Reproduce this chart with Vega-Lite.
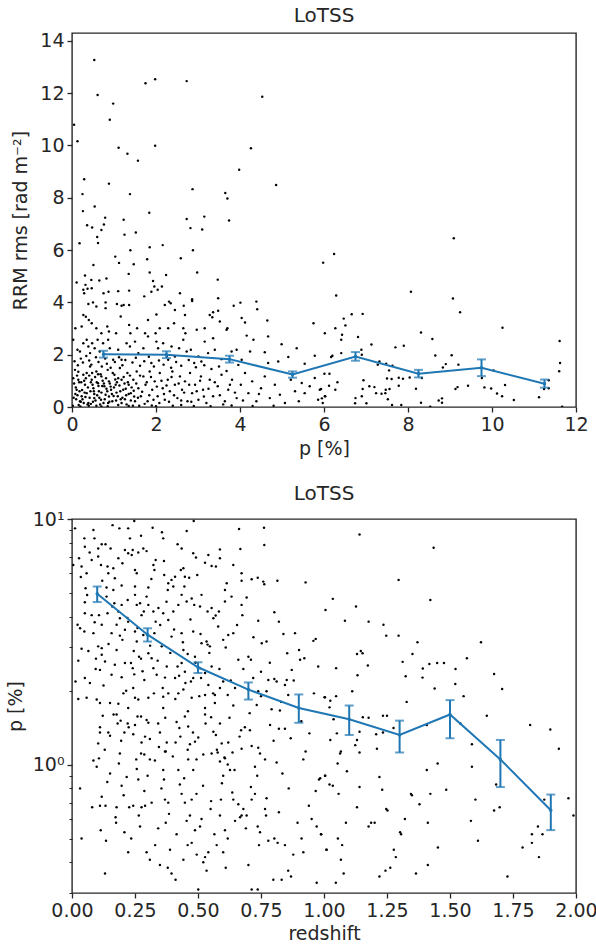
{
"$schema": "https://vega.github.io/schema/vega-lite/v6.json",
"background": "white",
"padding": 5,
"spacing": 24,
"config": {
 "font": "DejaVu Sans",
 "view": {"stroke": "#262626", "strokeWidth": 1.4},
 "axis": {"domain": false, "grid": false, "tickColor": "#262626", "tickSize": 5, "tickWidth": 1.3, "labelColor": "#262626", "labelFontSize": 19, "labelFont": "DejaVu Sans", "titleFont": "DejaVu Sans", "titleFontSize": 19, "titleFontWeight": "normal", "titleColor": "#262626", "labelFlush": false, "labelPadding": 3, "labelOverlap": false},
 "title": {"fontSize": 20, "fontWeight": "normal", "color": "#262626", "font": "DejaVu Sans", "offset": 6}
},
"datasets": {
"top_pts": [
{"p":0.53,"r":13.27},{"p":0.61,"r":11.93},{"p":0.98,"r":11.6},{"p":0.90,"r":10.98},{"p":0.05,"r":10.79},{"p":0.13,"r":10.16},{"p":1.11,"r":9.91},{"p":1.32,"r":9.68},{"p":1.57,"r":9.42},{"p":1.75,"r":12.38},{"p":1.98,"r":12.53},{"p":2.73,"r":12.46},{"p":1.98,"r":9.99},{"p":4.53,"r":11.86},{"p":4.26,"r":9.89},{"p":3.98,"r":9.07},{"p":4.86,"r":8.49},{"p":0.29,"r":8.71},{"p":0.25,"r":8.14},{"p":0.88,"r":8.54},{"p":1.38,"r":8.14},{"p":2.87,"r":8.33},{"p":3.65,"r":8.18},{"p":3.70,"r":7.97},{"p":0.26,"r":7.49},{"p":0.54,"r":7.67},{"p":0.79,"r":7.24},{"p":1.23,"r":7.16},{"p":1.84,"r":7.43},{"p":2.73,"r":7.19},{"p":3.15,"r":7.28},{"p":3.74,"r":7.13},{"p":0.36,"r":6.95},{"p":0.48,"r":6.86},{"p":0.76,"r":6.98},{"p":0.70,"r":6.77},{"p":0.60,"r":6.50},{"p":1.25,"r":6.59},{"p":1.52,"r":6.67},{"p":2.82,"r":6.84},{"p":3.10,"r":6.79},{"p":9.09,"r":6.45},
{"p":0.18,"r":6.26},{"p":0.62,"r":6.27},{"p":1.03,"r":5.75},{"p":1.12,"r":5.51},{"p":2.59,"r":5.69},{"p":2.88,"r":5.99},{"p":1.39,"r":5.99},{"p":0.51,"r":5.43},{"p":1.47,"r":5.46},{"p":2.98,"r":5.14},{"p":1.85,"r":5.14},{"p":1.35,"r":5.09},{"p":0.11,"r":4.76},{"p":0.31,"r":5.03},{"p":0.65,"r":4.84},{"p":0.82,"r":4.91},{"p":1.10,"r":4.43},{"p":1.36,"r":4.45},{"p":1.93,"r":4.82},{"p":1.96,"r":4.61},{"p":2.14,"r":4.61},{"p":2.57,"r":4.35},{"p":3.47,"r":4.87},{"p":0.27,"r":4.48},{"p":0.46,"r":4.86},{"p":1.72,"r":4.23},{"p":2.86,"r":4.12},{"p":3.48,"r":4.16},
{"p":1.85,"r":6.11},{"p":2.16,"r":6.19},{"p":1.79,"r":5.65},{"p":2.24,"r":5.05},{"p":0.29,"r":4.35},{"p":0.32,"r":4.67},{"p":0.37,"r":4.52},{"p":0.47,"r":4.54},{"p":0.75,"r":4.35},{"p":0.87,"r":4.41},{"p":1.89,"r":4.41},{"p":2.04,"r":4.48},{"p":2.86,"r":4.05},
{"p":0.39,"r":3.94},{"p":0.50,"r":4.0},{"p":0.58,"r":3.84},{"p":0.80,"r":4.0},{"p":0.80,"r":3.78},{"p":1.07,"r":3.94},{"p":1.18,"r":3.87},{"p":1.23,"r":3.9},{"p":1.36,"r":3.9},{"p":2.01,"r":3.54},{"p":2.21,"r":3.9},{"p":2.31,"r":4.03},{"p":2.35,"r":3.97},{"p":2.45,"r":3.71},{"p":2.66,"r":3.87},{"p":2.69,"r":3.52},{"p":3.28,"r":3.52},{"p":3.36,"r":3.62},{"p":3.34,"r":3.43},{"p":3.48,"r":3.68},{"p":3.52,"r":3.27},{"p":3.85,"r":3.87},{"p":4.01,"r":3.99},{"p":4.04,"r":3.40},{"p":4.12,"r":3.23},{"p":4.39,"r":4.03},{"p":4.41,"r":3.74},{"p":4.65,"r":3.31},{"p":5.98,"r":5.52},{"p":5.75,"r":3.2},{"p":6.02,"r":2.82},
{"p":0.08,"r":3.01},{"p":0.23,"r":3.08},{"p":0.27,"r":3.52},{"p":0.33,"r":3.45},{"p":0.40,"r":3.33},{"p":0.47,"r":3.2},{"p":0.58,"r":3.01},{"p":0.70,"r":2.82},{"p":0.84,"r":3.08},{"p":0.88,"r":2.89},{"p":1.05,"r":2.82},{"p":1.16,"r":3.46},{"p":1.36,"r":3.14},{"p":1.39,"r":2.82},{"p":1.55,"r":3.01},{"p":1.81,"r":3.33},{"p":1.74,"r":2.82},{"p":1.99,"r":2.82},{"p":2.09,"r":3.01},{"p":2.29,"r":3.01},{"p":2.43,"r":3.2},{"p":2.65,"r":3.01},{"p":2.70,"r":2.82},{"p":2.97,"r":2.95},{"p":3.16,"r":3.01},{"p":3.16,"r":2.5},{"p":3.36,"r":2.63},{"p":3.68,"r":2.95},{"p":3.70,"r":3.01},{"p":4.16,"r":2.73},{"p":4.32,"r":2.57},{"p":4.67,"r":2.70},{"p":4.99,"r":2.4},{"p":5.35,"r":2.25},{"p":4.24,"r":2.12},{"p":4.59,"r":2.09},{"p":4.67,"r":1.68},{"p":4.91,"r":1.74},{"p":5.15,"r":1.91},{"p":5.54,"r":1.65},{"p":5.78,"r":1.96},{"p":5.47,"r":0.92},{"p":5.78,"r":1.11},{"p":5.9,"r":0.66},{"p":6.02,"r":0.41},
{"p":0.03,"r":2.57},{"p":0.13,"r":2.19},{"p":0.19,"r":2.12},{"p":0.27,"r":2.44},{"p":0.35,"r":2.57},{"p":0.39,"r":2.31},{"p":0.43,"r":2.06},{"p":0.48,"r":2.44},{"p":0.54,"r":2.25},{"p":0.61,"r":2.57},{"p":0.66,"r":2.12},{"p":0.74,"r":2.44},{"p":0.86,"r":2.57},{"p":0.90,"r":2.25},{"p":0.98,"r":1.81},{"p":1.10,"r":2.19},{"p":1.18,"r":1.81},{"p":1.30,"r":2.44},{"p":1.38,"r":2.31},{"p":1.50,"r":2.5},{"p":1.58,"r":2.06},{"p":1.70,"r":2.25},{"p":1.81,"r":2.70},{"p":1.89,"r":1.68},{"p":2.01,"r":2.5},{"p":2.05,"r":2.25},{"p":2.17,"r":2.44},{"p":2.29,"r":1.81},{"p":2.37,"r":2.31},{"p":2.45,"r":1.93},{"p":2.55,"r":2.25},{"p":2.65,"r":2.57},{"p":2.73,"r":2.12},{"p":2.83,"r":2.19},{"p":2.91,"r":1.68},{"p":3.01,"r":1.93},{"p":3.08,"r":1.74},{"p":3.24,"r":2.06},{"p":3.40,"r":2.19},{"p":3.56,"r":1.83},{"p":3.80,"r":2.12},{"p":3.92,"r":2.19},{"p":3.96,"r":1.61},{"p":4.04,"r":1.81},
{"p":0.07,"r":1.42},{"p":0.15,"r":1.04},{"p":0.11,"r":0.66},{"p":0.23,"r":0.41},{"p":0.19,"r":0.22},{"p":0.27,"r":1.23},{"p":0.31,"r":0.85},{"p":0.35,"r":0.53},{"p":0.39,"r":0.15},{"p":0.43,"r":1.55},{"p":0.47,"r":1.04},{"p":0.51,"r":0.72},{"p":0.53,"r":0.34},{"p":0.58,"r":1.36},{"p":0.62,"r":0.91},{"p":0.64,"r":0.60},{"p":0.69,"r":0.28},{"p":0.70,"r":1.17},{"p":0.77,"r":0.79},{"p":0.80,"r":0.47},{"p":0.85,"r":1.42},{"p":0.88,"r":0.98},{"p":0.93,"r":0.66},{"p":0.96,"r":0.22},{"p":1.01,"r":1.23},{"p":1.04,"r":0.85},{"p":1.09,"r":0.41},{"p":1.14,"r":1.49},{"p":1.18,"r":1.04},{"p":1.22,"r":0.66},{"p":1.26,"r":0.30},{"p":1.32,"r":1.30},{"p":1.35,"r":0.85},{"p":1.40,"r":0.53},{"p":1.46,"r":1.04},{"p":1.50,"r":0.22},{"p":1.54,"r":1.36},{"p":1.58,"r":0.72},{"p":1.64,"r":0.41},{"p":1.70,"r":1.17},{"p":1.75,"r":0.85},{"p":1.80,"r":0.22},{"p":1.85,"r":1.36},{"p":1.91,"r":0.66},{"p":1.97,"r":0.98},{"p":2.04,"r":0.41},{"p":2.09,"r":1.30},{"p":2.16,"r":0.72},{"p":2.21,"r":0.28},{"p":2.28,"r":1.04},{"p":2.33,"r":0.60},{"p":2.39,"r":1.36},{"p":2.45,"r":0.85},{"p":2.51,"r":0.34},{"p":2.57,"r":1.17},{"p":2.62,"r":0.66},{"p":2.69,"r":0.98},{"p":2.75,"r":0.22},{"p":2.81,"r":1.30},{"p":2.86,"r":0.53},{"p":2.93,"r":0.85},{"p":3.01,"r":0.28},{"p":3.07,"r":1.17},{"p":3.12,"r":0.66},{"p":3.20,"r":0.15},{"p":3.28,"r":1.04},{"p":3.36,"r":0.41},{"p":3.47,"r":0.79},{"p":3.56,"r":1.23},{"p":3.64,"r":0.22},{"p":3.72,"r":0.66},{"p":3.81,"r":1.04},{"p":3.92,"r":0.34},{"p":4.02,"r":0.85},{"p":4.12,"r":1.30},{"p":4.20,"r":0.53},{"p":4.29,"r":0.98},{"p":4.39,"r":0.22},{"p":4.50,"r":0.72},{"p":4.59,"r":1.17},{"p":4.71,"r":0.34},{"p":4.83,"r":0.85},{"p":4.95,"r":0.47},{"p":5.07,"r":0.15},{"p":5.21,"r":1.04},{"p":5.31,"r":0.60},{"p":5.40,"r":0.22},{"p":5.54,"r":0.53},{"p":5.66,"r":0.79},{"p":5.86,"r":0.28},
{"p":0.05,"r":0.9},{"p":0.1,"r":0.3},{"p":0.12,"r":1.2},{"p":0.18,"r":0.6},{"p":0.22,"r":0.95},{"p":0.28,"r":0.15},{"p":0.3,"r":0.55},{"p":0.33,"r":1.1},{"p":0.38,"r":0.75},{"p":0.42,"r":0.35},{"p":0.45,"r":0.95},{"p":0.5,"r":0.2},{"p":0.52,"r":0.6},{"p":0.55,"r":1.15},{"p":0.6,"r":0.45},{"p":0.63,"r":0.8},{"p":0.67,"r":0.1},{"p":0.7,"r":0.55},{"p":0.73,"r":1.0},{"p":0.78,"r":0.3},{"p":0.82,"r":0.7},{"p":0.86,"r":0.15},{"p":0.9,"r":0.9},{"p":0.95,"r":0.5},{"p":1.0,"r":0.75},{"p":1.05,"r":0.25},{"p":1.1,"r":1.1},{"p":1.15,"r":0.6},{"p":1.2,"r":0.35},{"p":1.25,"r":0.9},{"p":1.3,"r":0.1},{"p":1.35,"r":0.5},{"p":1.42,"r":0.75},{"p":1.48,"r":0.4},{"p":0.08,"r":0.5},{"p":0.15,"r":1.35},{"p":0.25,"r":0.3},{"p":0.35,"r":1.3},{"p":0.48,"r":1.3},{"p":0.58,"r":0.05},{"p":0.68,"r":1.25},{"p":0.76,"r":0.9},{"p":0.88,"r":0.4},{"p":0.97,"r":1.3},{"p":1.07,"r":0.95},{"p":1.18,"r":0.15},{"p":1.28,"r":0.7},{"p":1.38,"r":1.2},{"p":1.45,"r":0.05},{"p":0.02,"r":0.05},{"p":0.04,"r":0.35},{"p":0.2,"r":0.02},{"p":0.4,"r":0.05},{"p":0.85,"r":0.03},{"p":1.6,"r":0.05},{"p":2.0,"r":0.03},{"p":2.4,"r":0.05},{"p":2.9,"r":0.04},{"p":3.3,"r":0.03},{"p":3.8,"r":0.06},{"p":4.3,"r":0.04},{"p":4.8,"r":0.05},
{"p":0.06,"r":1.75},{"p":0.14,"r":1.6},{"p":0.21,"r":1.85},{"p":0.26,"r":1.7},{"p":0.34,"r":1.95},{"p":0.41,"r":1.78},{"p":0.46,"r":1.62},{"p":0.57,"r":1.9},{"p":0.63,"r":1.72},{"p":0.71,"r":1.55},{"p":0.79,"r":1.85},{"p":0.83,"r":1.65},{"p":0.92,"r":1.5},{"p":1.02,"r":1.72},{"p":1.12,"r":1.9},{"p":1.2,"r":1.6},{"p":1.27,"r":1.8},{"p":1.44,"r":1.7},{"p":1.52,"r":1.88},{"p":1.62,"r":1.58},{"p":1.72,"r":1.75},{"p":1.83,"r":1.92},{"p":1.95,"r":1.55},{"p":2.07,"r":1.78},{"p":2.18,"r":1.62},{"p":2.26,"r":1.95},{"p":2.36,"r":1.5},{"p":2.48,"r":1.72},{"p":2.6,"r":1.58},{"p":2.78,"r":1.8},{"p":2.95,"r":1.52},{"p":3.15,"r":1.6},{"p":3.32,"r":1.45},{"p":3.5,"r":1.55},{"p":3.68,"r":1.38},
{"p":0.03,"r":1.1},{"p":0.09,"r":0.75},{"p":0.13,"r":0.45},{"p":0.17,"r":0.95},{"p":0.21,"r":0.2},{"p":0.24,"r":0.65},{"p":0.29,"r":1.0},{"p":0.32,"r":0.38},{"p":0.37,"r":0.1},{"p":0.41,"r":1.2},{"p":0.44,"r":0.6},{"p":0.49,"r":0.85},{"p":0.53,"r":0.5},{"p":0.56,"r":0.25},{"p":0.59,"r":0.95},{"p":0.62,"r":1.25},{"p":0.65,"r":0.35},{"p":0.72,"r":0.8},{"p":0.75,"r":0.15},{"p":0.81,"r":1.1},{"p":0.84,"r":0.6},{"p":0.89,"r":0.2},{"p":0.92,"r":0.78},{"p":0.99,"r":0.42},{"p":1.03,"r":1.05},{"p":1.06,"r":0.55},{"p":1.13,"r":0.82},{"p":1.16,"r":0.3},{"p":1.23,"r":1.15},{"p":1.29,"r":0.45},{"p":1.33,"r":0.95},{"p":1.4,"r":0.25},{"p":1.47,"r":0.62},{"p":1.53,"r":0.9},{"p":1.57,"r":0.35},{"p":1.62,"r":1.2},{"p":1.67,"r":0.58},{"p":1.73,"r":0.12},{"p":1.78,"r":0.95},{"p":1.84,"r":0.45},{"p":1.88,"r":1.15},{"p":1.94,"r":0.28},{"p":2.02,"r":0.78},{"p":2.08,"r":0.15},{"p":2.13,"r":1.0},{"p":2.19,"r":0.5},{"p":2.25,"r":0.82},{"p":2.31,"r":0.2},{"p":2.37,"r":1.15},{"p":2.43,"r":0.45},{"p":2.54,"r":0.9},{"p":2.6,"r":0.25},{"p":2.67,"r":0.55},{"p":2.79,"r":0.85},{"p":2.84,"r":0.2},{"p":2.97,"r":0.6},{"p":3.05,"r":1.0},{"p":3.14,"r":0.4},{"p":3.25,"r":0.7},{"p":3.4,"r":0.95},{"p":3.52,"r":0.45},{"p":3.6,"r":0.1},{"p":3.76,"r":0.85},{"p":3.88,"r":0.55},{"p":4.07,"r":0.25},{"p":4.45,"r":0.5},{"p":0.16,"r":0.08},{"p":0.45,"r":0.12},{"p":0.7,"r":0.02},{"p":1.1,"r":0.08},{"p":1.35,"r":0.04},{"p":1.9,"r":0.06},{"p":2.6,"r":0.08},
{"p":6.24,"r":5.85},{"p":6.29,"r":4.26},{"p":8.07,"r":4.41},{"p":9.07,"r":4.15},{"p":9.24,"r":3.62},{"p":6.66,"r":3.55},{"p":6.92,"r":3.56},{"p":6.47,"r":3.38},{"p":6.51,"r":3.12},{"p":6.27,"r":3.01},{"p":6.43,"r":2.76},{"p":6.41,"r":2.57},{"p":6.81,"r":2.68},{"p":7.13,"r":2.39},{"p":8.31,"r":2.85},{"p":8.58,"r":2.6},{"p":10.25,"r":3.03},{"p":11.61,"r":2.52},{"p":11.62,"r":1.68},{"p":11.6,"r":1.37},{"p":6.41,"r":2.06},{"p":6.2,"r":1.96},{"p":6.17,"r":1.91},{"p":6.89,"r":2.19},{"p":6.9,"r":2.0},{"p":7.70,"r":2.28},{"p":7.90,"r":2.34},{"p":8.65,"r":1.97},{"p":9.04,"r":1.98},{"p":8.9,"r":1.64},{"p":8.83,"r":1.51},{"p":9.2,"r":1.62},{"p":7.28,"r":1.62},{"p":7.32,"r":1.74},{"p":7.48,"r":1.65},{"p":7.63,"r":1.58},{"p":7.55,"r":1.40},{"p":6.01,"r":1.27},{"p":6.13,"r":1.27},{"p":6.32,"r":0.95},{"p":6.12,"r":0.81},{"p":6.27,"r":0.66},{"p":5.93,"r":0.69},{"p":6.03,"r":0.41},{"p":5.95,"r":0.33},{"p":5.97,"r":0.15},{"p":6.94,"r":1.02},{"p":6.92,"r":0.69},{"p":6.90,"r":0.41},{"p":6.75,"r":0.34},{"p":6.74,"r":0.14},{"p":7.01,"r":0.14},{"p":7.08,"r":0.79},{"p":7.2,"r":0.76},{"p":7.24,"r":0.53},{"p":7.37,"r":0.51},{"p":7.47,"r":0.66},{"p":7.56,"r":0.69},{"p":7.46,"r":0.53},{"p":7.52,"r":0.30},{"p":7.5,"r":1.09},{"p":7.61,"r":1.07},{"p":7.78,"r":1.12},{"p":7.88,"r":1.08},{"p":7.78,"r":0.81},{"p":7.62,"r":0.08},{"p":7.84,"r":0.08},{"p":8.04,"r":1.13},{"p":8.19,"r":0.70},{"p":8.31,"r":0.16},{"p":8.53,"r":0.01},{"p":8.33,"r":1.11},{"p":8.73,"r":0.25},{"p":8.81,"r":0.33},{"p":8.81,"r":0.16},{"p":9.13,"r":0.69},{"p":9.18,"r":0.76},{"p":9.43,"r":0.81},{"p":9.76,"r":1.11},{"p":9.82,"r":0.75},{"p":9.98,"r":0.71},{"p":10.04,"r":1.40},{"p":10.12,"r":0.52},{"p":10.24,"r":0.41},{"p":10.31,"r":0.84},{"p":10.52,"r":0.27},{"p":11.12,"r":0.37},{"p":11.24,"r":0.69},{"p":11.35,"r":1.02},{"p":11.35,"r":0.72},{"p":11.67,"r":0.01}
],
"top_bins": [
{"p":0.75,"r":2.02,"lo":1.89,"hi":2.15},{"p":2.25,"r":2.0,"lo":1.87,"hi":2.13},{"p":3.75,"r":1.83,"lo":1.70,"hi":1.96},{"p":5.25,"r":1.24,"lo":1.12,"hi":1.36},{"p":6.75,"r":1.93,"lo":1.77,"hi":2.10},{"p":8.25,"r":1.27,"lo":1.13,"hi":1.42},{"p":9.75,"r":1.50,"lo":1.18,"hi":1.82},{"p":11.25,"r":0.89,"lo":0.74,"hi":1.05}
],
"bot_pts": [
{"z":0.012,"p":9.16},{"z":0.049,"p":8.34},{"z":0.085,"p":9.02},{"z":0.089,"p":8.34},{"z":0.118,"p":7.89},{"z":0.133,"p":7.89},{"z":0.161,"p":9.44},{"z":0.188,"p":9.16},{"z":0.223,"p":9.16},{"z":0.247,"p":9.82},{"z":0.230,"p":8.34},{"z":0.274,"p":8.55},{"z":0.320,"p":9.22},{"z":0.357,"p":8.83},{"z":0.362,"p":8.34},{"z":0.419,"p":7.89},{"z":0.455,"p":8.93},{"z":0.483,"p":9.82},{"z":0.663,"p":9.10},{"z":0.762,"p":9.22},{"z":0.763,"p":7.84},{"z":0.668,"p":7.55},{"z":0.587,"p":7.52},{"z":0.051,"p":7.71},{"z":0.104,"p":7.59},{"z":0.153,"p":7.59},{"z":0.210,"p":7.48},{"z":0.241,"p":7.48},{"z":0.283,"p":7.59},{"z":0.435,"p":7.59},
{"z":0.005,"p":6.50},{"z":0.028,"p":6.92},{"z":0.038,"p":6.40},{"z":0.058,"p":6.01},{"z":0.078,"p":6.81},{"z":0.104,"p":7.03},{"z":0.115,"p":6.50},{"z":0.141,"p":6.40},{"z":0.144,"p":6.01},{"z":0.164,"p":6.30},{"z":0.184,"p":6.92},{"z":0.223,"p":7.25},{"z":0.237,"p":7.13},{"z":0.263,"p":7.31},{"z":0.296,"p":7.40},{"z":0.323,"p":6.50},{"z":0.332,"p":6.81},{"z":0.327,"p":6.20},{"z":0.365,"p":6.75},{"z":0.366,"p":5.92},{"z":0.409,"p":5.82},{"z":0.432,"p":6.20},{"z":0.442,"p":6.30},{"z":0.448,"p":5.82},{"z":0.481,"p":7.25},{"z":0.492,"p":6.97},{"z":0.497,"p":5.92},{"z":0.465,"p":5.77},{"z":0.528,"p":6.64},{"z":0.541,"p":7.13},{"z":0.554,"p":6.44},{"z":0.571,"p":6.40},{"z":0.587,"p":6.92},{"z":0.640,"p":6.50},{"z":0.673,"p":6.01},{"z":0.673,"p":5.60},{"z":0.713,"p":5.68},{"z":0.737,"p":5.77},{"z":0.763,"p":5.42},{"z":0.759,"p":5.56},{"z":0.815,"p":5.60},{"z":0.927,"p":5.52},{"z":0.250,"p":6.20},{"z":0.257,"p":6.01},{"z":0.170,"p":5.74},{"z":0.197,"p":5.36},{"z":0.382,"p":5.47},{"z":0.395,"p":5.65},{"z":0.402,"p":5.31},{"z":0.446,"p":5.31},{"z":0.614,"p":5.47},{"z":0.607,"p":5.14},{"z":0.054,"p":5.22},{"z":0.137,"p":5.26},{"z":0.164,"p":5.14},{"z":0.250,"p":5.31},{"z":0.303,"p":5.26},
{"z":0.022,"p":3.71},{"z":0.051,"p":4.58},{"z":0.051,"p":4.13},{"z":0.032,"p":3.59},{"z":0.049,"p":3.48},{"z":0.078,"p":4.06},{"z":0.085,"p":3.43},{"z":0.107,"p":4.06},{"z":0.118,"p":3.71},{"z":0.137,"p":4.83},{"z":0.141,"p":4.13},{"z":0.168,"p":4.54},{"z":0.177,"p":3.71},{"z":0.184,"p":4.20},{"z":0.190,"p":3.94},{"z":0.197,"p":4.47},{"z":0.200,"p":3.22},{"z":0.210,"p":3.54},{"z":0.221,"p":4.68},{"z":0.223,"p":3.82},{"z":0.250,"p":4.91},{"z":0.257,"p":4.47},{"z":0.270,"p":4.54},{"z":0.276,"p":4.06},{"z":0.296,"p":4.83},{"z":0.303,"p":4.47},{"z":0.323,"p":4.20},{"z":0.332,"p":3.82},{"z":0.343,"p":4.34},{"z":0.362,"p":4.13},{"z":0.380,"p":5.14},{"z":0.382,"p":3.88},{"z":0.402,"p":4.20},{"z":0.422,"p":4.47},{"z":0.435,"p":4.91},{"z":0.455,"p":4.61},{"z":0.475,"p":4.75},{"z":0.485,"p":4.47},{"z":0.508,"p":4.40},{"z":0.514,"p":4.91},{"z":0.538,"p":4.20},{"z":0.554,"p":4.34},{"z":0.561,"p":3.94},{"z":0.583,"p":4.20},{"z":0.607,"p":4.61},{"z":0.633,"p":4.83},{"z":0.673,"p":4.47},{"z":0.676,"p":4.06},{"z":0.693,"p":4.79},{"z":0.739,"p":3.85},{"z":0.753,"p":3.12},{"z":0.772,"p":3.17},{"z":0.803,"p":4.17},{"z":0.821,"p":3.82},{"z":0.839,"p":3.40},{"z":0.885,"p":3.43},{"z":0.958,"p":3.19},{"z":0.967,"p":3.25},{"z":1.006,"p":4.26},{"z":0.620,"p":3.37},{"z":0.640,"p":3.43},{"z":0.600,"p":3.22},{"z":0.580,"p":3.65},{"z":0.514,"p":3.12},{"z":0.534,"p":3.17},{"z":0.481,"p":3.48},{"z":0.435,"p":3.43},{"z":0.395,"p":3.32},{"z":0.356,"p":3.03},{"z":0.327,"p":3.43},{"z":0.283,"p":3.37},{"z":0.250,"p":3.48},{"z":0.257,"p":3.17},{"z":0.157,"p":3.43},{"z":0.118,"p":2.98},{"z":0.104,"p":3.03},{"z":0.065,"p":2.90},{"z":0.038,"p":2.96},
{"z":0.025,"p":2.65},{"z":0.014,"p":2.18},{"z":0.051,"p":2.25},{"z":0.071,"p":2.15},{"z":0.094,"p":2.45},{"z":0.111,"p":2.43},{"z":0.118,"p":2.80},{"z":0.131,"p":2.63},{"z":0.157,"p":2.32},{"z":0.177,"p":2.93},{"z":0.197,"p":2.27},{"z":0.210,"p":2.59},{"z":0.234,"p":2.59},{"z":0.241,"p":2.47},{"z":0.247,"p":2.33},{"z":0.266,"p":2.75},{"z":0.274,"p":2.70},{"z":0.287,"p":2.21},{"z":0.303,"p":2.84},{"z":0.316,"p":2.71},{"z":0.323,"p":2.47},{"z":0.336,"p":2.32},{"z":0.369,"p":2.26},{"z":0.376,"p":2.51},{"z":0.409,"p":2.25},{"z":0.419,"p":2.51},{"z":0.435,"p":2.59},{"z":0.442,"p":2.93},{"z":0.448,"p":2.39},{"z":0.459,"p":2.82},{"z":0.472,"p":2.18},{"z":0.481,"p":2.25},{"z":0.488,"p":2.75},{"z":0.508,"p":2.47},{"z":0.512,"p":2.25},{"z":0.528,"p":2.36},{"z":0.538,"p":3.08},{"z":0.541,"p":2.11},{"z":0.547,"p":3.03},{"z":0.554,"p":2.51},{"z":0.567,"p":1.92},{"z":0.587,"p":2.05},{"z":0.600,"p":2.18},{"z":0.618,"p":1.92},{"z":0.647,"p":2.05},{"z":0.660,"p":2.67},{"z":0.700,"p":2.75},{"z":0.710,"p":2.67},{"z":0.719,"p":2.25},{"z":0.739,"p":1.99},{"z":0.750,"p":2.39},{"z":0.772,"p":1.99},{"z":0.779,"p":2.21},{"z":0.803,"p":2.23},{"z":0.812,"p":2.18},{"z":0.845,"p":2.11},{"z":0.852,"p":2.21},{"z":0.854,"p":2.84},{"z":0.872,"p":2.43},{"z":0.901,"p":2.93},{"z":0.905,"p":2.67},{"z":0.922,"p":2.71},{"z":0.977,"p":2.51},{"z":1.004,"p":1.88},{"z":0.858,"p":1.92},{"z":0.025,"p":1.85},{"z":0.058,"p":1.87},{"z":0.098,"p":1.84},{"z":0.111,"p":1.78},{"z":0.151,"p":1.78},{"z":0.204,"p":1.95},{"z":0.243,"p":2.05},{"z":0.250,"p":1.87},{"z":0.263,"p":1.84},{"z":0.303,"p":1.87},{"z":0.362,"p":1.89},{"z":0.382,"p":1.95},{"z":0.422,"p":1.95},{"z":0.442,"p":2.02},{"z":0.475,"p":1.87},{"z":0.528,"p":1.92},
{"z":0.184,"p":1.77},{"z":0.223,"p":1.70},{"z":0.362,"p":1.70},{"z":0.528,"p":1.70},{"z":0.567,"p":1.78},{"z":0.640,"p":1.74},{"z":0.733,"p":1.75},{"z":0.792,"p":1.68},{"z":0.825,"p":1.66},{"z":0.122,"p":1.58},{"z":0.177,"p":1.60},{"z":0.193,"p":1.51},{"z":0.111,"p":1.42},{"z":0.111,"p":1.35},{"z":0.144,"p":1.35},{"z":0.151,"p":1.31},{"z":0.181,"p":1.47},{"z":0.208,"p":1.35},{"z":0.221,"p":1.47},{"z":0.250,"p":1.45},{"z":0.260,"p":1.57},{"z":0.274,"p":1.57},{"z":0.296,"p":1.52},{"z":0.303,"p":1.48},{"z":0.243,"p":1.33},{"z":0.276,"p":1.23},{"z":0.309,"p":1.27},{"z":0.342,"p":1.47},{"z":0.349,"p":1.35},{"z":0.376,"p":1.23},{"z":0.369,"p":1.13},{"z":0.415,"p":1.49},{"z":0.426,"p":1.41},{"z":0.448,"p":1.57},{"z":0.461,"p":1.43},{"z":0.468,"p":1.21},{"z":0.488,"p":1.24},{"z":0.501,"p":1.29},{"z":0.528,"p":1.60},{"z":0.552,"p":1.56},{"z":0.561,"p":1.36},{"z":0.571,"p":1.32},{"z":0.587,"p":1.47},{"z":0.594,"p":1.22},{"z":0.605,"p":1.07},{"z":0.618,"p":1.00},{"z":0.637,"p":1.12},{"z":0.620,"p":1.23},{"z":0.671,"p":1.38},{"z":0.686,"p":1.42},{"z":0.706,"p":1.38},{"z":0.673,"p":1.16},{"z":0.713,"p":1.19},{"z":0.739,"p":1.17},{"z":0.746,"p":1.11},{"z":0.726,"p":0.98},{"z":0.766,"p":1.05},{"z":0.786,"p":1.45},{"z":0.812,"p":1.02},{"z":0.821,"p":1.40},{"z":0.845,"p":1.40},{"z":0.868,"p":1.28},{"z":0.927,"p":1.13},{"z":0.918,"p":1.05},{"z":0.942,"p":1.34},{"z":0.104,"p":1.22},{"z":0.085,"p":1.04},{"z":0.107,"p":1.06},{"z":0.098,"p":0.98},{"z":0.190,"p":1.11},{"z":0.186,"p":1.01},{"z":0.274,"p":1.11},{"z":0.287,"p":1.10},{"z":0.309,"p":1.05},{"z":0.329,"p":1.04},{"z":0.372,"p":1.13},{"z":0.411,"p":1.23},{"z":0.459,"p":1.15},{"z":0.461,"p":1.05},{"z":0.494,"p":1.05},{"z":0.521,"p":1.10},{"z":0.554,"p":1.11},{"z":0.578,"p":1.12},{"z":0.587,"p":1.03},{"z":0.607,"p":1.06},{"z":0.627,"p":0.95},
{"z":0.032,"p":0.80},{"z":0.038,"p":0.50},{"z":0.118,"p":0.74},{"z":0.080,"p":0.67},{"z":0.111,"p":0.68},{"z":0.133,"p":0.68},{"z":0.114,"p":0.54},{"z":0.135,"p":0.49},{"z":0.131,"p":0.36},{"z":0.151,"p":0.92},{"z":0.177,"p":0.67},{"z":0.173,"p":0.61},{"z":0.197,"p":0.82},{"z":0.208,"p":0.53},{"z":0.223,"p":0.44},{"z":0.217,"p":0.89},{"z":0.227,"p":0.67},{"z":0.243,"p":0.68},{"z":0.257,"p":0.96},{"z":0.263,"p":0.87},{"z":0.270,"p":0.56},{"z":0.276,"p":0.67},{"z":0.287,"p":0.78},{"z":0.290,"p":0.68},{"z":0.296,"p":0.44},{"z":0.309,"p":0.41},{"z":0.316,"p":0.70},{"z":0.342,"p":0.55},{"z":0.349,"p":0.39},{"z":0.362,"p":0.95},{"z":0.365,"p":0.87},{"z":0.369,"p":0.72},{"z":0.372,"p":0.58},{"z":0.380,"p":0.38},{"z":0.382,"p":0.70},{"z":0.395,"p":0.36},{"z":0.389,"p":0.45},{"z":0.411,"p":0.34},{"z":0.422,"p":0.95},{"z":0.428,"p":0.83},{"z":0.435,"p":0.76},{"z":0.442,"p":0.41},{"z":0.448,"p":0.70},{"z":0.455,"p":0.59},{"z":0.459,"p":0.47},{"z":0.468,"p":0.62},{"z":0.475,"p":0.48},{"z":0.481,"p":0.95},{"z":0.488,"p":0.54},{"z":0.494,"p":0.76},{"z":0.501,"p":0.31},{"z":0.508,"p":0.56},{"z":0.514,"p":0.60},{"z":0.521,"p":0.40},{"z":0.528,"p":0.42},{"z":0.534,"p":0.37},{"z":0.541,"p":0.44},{"z":0.552,"p":0.71},{"z":0.565,"p":0.52},{"z":0.574,"p":0.47},{"z":0.587,"p":0.62},{"z":0.591,"p":0.72},{"z":0.600,"p":0.90},{"z":0.600,"p":0.44},{"z":0.607,"p":0.54},{"z":0.610,"p":0.38},{"z":0.618,"p":0.50},{"z":0.636,"p":0.77},{"z":0.640,"p":0.72},{"z":0.647,"p":0.59},{"z":0.660,"p":0.69},{"z":0.667,"p":0.61},{"z":0.673,"p":0.62},{"z":0.680,"p":0.66},{"z":0.693,"p":0.62},{"z":0.700,"p":0.39},{"z":0.710,"p":0.81},{"z":0.713,"p":0.72},{"z":0.726,"p":0.76},{"z":0.737,"p":0.56},{"z":0.742,"p":0.47},{"z":0.746,"p":0.53},{"z":0.766,"p":0.66},{"z":0.772,"p":0.73},{"z":0.779,"p":0.49},{"z":0.799,"p":0.34},{"z":0.803,"p":0.50},{"z":0.816,"p":0.48},{"z":0.821,"p":0.64},{"z":0.832,"p":0.34},{"z":0.835,"p":0.92},{"z":0.845,"p":0.47},{"z":0.858,"p":0.37},{"z":0.869,"p":0.35},{"z":0.878,"p":0.43},{"z":0.895,"p":0.58},{"z":0.911,"p":0.50},{"z":0.918,"p":0.44},{"z":0.951,"p":0.60},{"z":0.967,"p":0.78},{"z":0.971,"p":0.56},{"z":0.971,"p":0.33},{"z":0.980,"p":0.87},{"z":0.988,"p":0.52},{"z":1.004,"p":0.90},{"z":1.010,"p":0.45},{"z":0.713,"p":0.31},{"z":0.737,"p":0.31},
{"z":0.035,"p":5.8},{"z":0.06,"p":4.9},{"z":0.07,"p":7.3},{"z":0.09,"p":3.8},{"z":0.095,"p":2.7},{"z":0.12,"p":5.6},{"z":0.125,"p":2.1},{"z":0.13,"p":1.15},{"z":0.14,"p":0.85},{"z":0.145,"p":3.1},{"z":0.16,"p":4.4},{"z":0.165,"p":1.6},{"z":0.17,"p":2.55},{"z":0.175,"p":0.58},{"z":0.19,"p":3.35},{"z":0.195,"p":1.25},{"z":0.2,"p":6.6},{"z":0.205,"p":0.75},{"z":0.215,"p":2.0},{"z":0.22,"p":3.95},{"z":0.225,"p":1.42},{"z":0.235,"p":0.5},{"z":0.245,"p":2.9},{"z":0.255,"p":1.05},{"z":0.26,"p":3.6},{"z":0.265,"p":0.62},{"z":0.28,"p":2.4},{"z":0.285,"p":4.2},{"z":0.29,"p":1.3},{"z":0.3,"p":0.9},{"z":0.31,"p":3.05},{"z":0.315,"p":5.7},{"z":0.325,"p":1.95},{"z":0.33,"p":0.47},{"z":0.34,"p":2.65},{"z":0.345,"p":1.18},{"z":0.35,"p":3.7},{"z":0.355,"p":0.8},{"z":0.36,"p":2.05},{"z":0.37,"p":1.55},{"z":0.375,"p":4.6},{"z":0.385,"p":0.63},{"z":0.39,"p":2.85},{"z":0.4,"p":1.08},{"z":0.405,"p":3.55},{"z":0.41,"p":1.85},{"z":0.415,"p":0.52},{"z":0.425,"p":2.3},{"z":0.43,"p":1.3},{"z":0.44,"p":3.15},{"z":0.445,"p":0.88},{"z":0.45,"p":2.15},{"z":0.46,"p":1.65},{"z":0.47,"p":3.9},{"z":0.475,"p":0.72},{"z":0.48,"p":1.35},{"z":0.49,"p":2.6},{"z":0.495,"p":0.43},{"z":0.505,"p":1.9},{"z":0.51,"p":3.4},{"z":0.52,"p":0.82},{"z":0.53,"p":1.47},{"z":0.545,"p":2.85},{"z":0.55,"p":0.66},{"z":0.56,"p":1.95},{"z":0.57,"p":4.05},{"z":0.575,"p":1.15},{"z":0.585,"p":2.45},{"z":0.595,"p":0.84},{"z":0.61,"p":3.0},{"z":0.625,"p":1.55},{"z":0.63,"p":2.2},{"z":0.645,"p":0.95},{"z":0.655,"p":3.7},{"z":0.665,"p":1.3},{"z":0.68,"p":2.45},{"z":0.69,"p":0.55},{"z":0.705,"p":1.62},{"z":0.72,"p":3.3},{"z":0.735,"p":0.9},{"z":0.75,"p":1.9},{"z":0.77,"p":0.62},{"z":0.785,"p":2.6},{"z":0.8,"p":1.25},{"z":0.83,"p":1.8},{"z":0.86,"p":0.8},{"z":0.88,"p":2.2},{"z":0.91,"p":1.5},{"z":0.94,"p":0.68},{"z":0.96,"p":1.95},
{"z":1.141,"p":8.65},{"z":1.435,"p":7.64},{"z":1.296,"p":5.65},{"z":1.035,"p":4.73},{"z":1.127,"p":4.40},{"z":1.422,"p":4.68},{"z":1.083,"p":3.85},{"z":1.177,"p":3.82},{"z":1.236,"p":3.71},{"z":1.247,"p":3.35},{"z":1.296,"p":3.35},{"z":1.371,"p":3.15},{"z":1.623,"p":3.15},{"z":1.131,"p":2.82},{"z":1.146,"p":2.90},{"z":1.153,"p":2.84},{"z":1.351,"p":2.82},{"z":1.312,"p":2.62},{"z":1.048,"p":2.47},{"z":1.174,"p":2.53},{"z":1.133,"p":2.31},{"z":1.392,"p":2.46},{"z":1.418,"p":2.57},{"z":1.449,"p":2.59},{"z":1.476,"p":2.59},{"z":1.522,"p":2.45},{"z":1.567,"p":2.71},{"z":1.675,"p":2.34},{"z":1.324,"p":2.29},{"z":1.391,"p":2.26},{"z":1.521,"p":2.13},{"z":1.707,"p":2.03},{"z":1.439,"p":2.04},{"z":1.112,"p":1.99},{"z":1.002,"p":1.88},{"z":1.048,"p":1.90},{"z":1.025,"p":1.82},{"z":1.328,"p":1.80},{"z":1.554,"p":1.90},
{"z":1.022,"p":1.71},{"z":1.038,"p":1.53},{"z":1.154,"p":1.56},{"z":1.177,"p":1.55},{"z":1.234,"p":1.58},{"z":1.250,"p":1.58},{"z":1.408,"p":1.45},{"z":1.646,"p":1.58},{"z":1.818,"p":1.45},{"z":1.898,"p":1.39},{"z":1.932,"p":1.16},{"z":1.276,"p":1.41},{"z":1.541,"p":1.47},{"z":1.051,"p":1.34},{"z":1.141,"p":1.36},{"z":1.131,"p":1.26},{"z":1.124,"p":1.20},{"z":1.141,"p":1.12},{"z":1.207,"p":1.33},{"z":1.234,"p":1.35},{"z":1.210,"p":1.16},{"z":1.025,"p":1.26},{"z":1.067,"p":1.13},{"z":1.064,"p":1.11},{"z":1.587,"p":1.21},{"z":1.054,"p":1.01},{"z":1.091,"p":0.94},{"z":1.451,"p":1.01},{"z":1.408,"p":0.95},{"z":1.587,"p":0.98},{"z":0.985,"p":0.88},{"z":1.005,"p":0.90},{"z":1.022,"p":0.83},{"z":1.035,"p":0.82},{"z":1.058,"p":0.76},{"z":1.141,"p":0.81},{"z":1.220,"p":0.89},{"z":1.231,"p":0.79},{"z":1.345,"p":0.76},{"z":1.349,"p":0.75},{"z":1.422,"p":0.76},{"z":1.485,"p":0.79},{"z":1.683,"p":0.83},{"z":1.131,"p":0.67},{"z":1.247,"p":0.66},{"z":1.252,"p":0.65},{"z":1.379,"p":0.69},{"z":1.601,"p":0.72},{"z":1.675,"p":0.65},{"z":1.697,"p":0.67},{"z":1.874,"p":0.72},{"z":1.970,"p":0.73},{"z":1.990,"p":0.62},{"z":1.087,"p":0.58},{"z":1.177,"p":0.56},{"z":1.187,"p":0.58},{"z":1.201,"p":0.58},{"z":1.321,"p":0.60},{"z":1.412,"p":0.58},{"z":1.583,"p":0.59},{"z":1.849,"p":0.56},{"z":1.825,"p":0.52},{"z":1.867,"p":0.52},{"z":1.302,"p":0.53},{"z":1.306,"p":0.52},{"z":0.989,"p":0.52},{"z":1.055,"p":0.50},{"z":1.072,"p":0.47},{"z":1.010,"p":0.45},{"z":1.611,"p":0.49},{"z":1.452,"p":0.46},{"z":1.277,"p":0.45},{"z":1.285,"p":0.42},{"z":1.788,"p":0.46},{"z":1.825,"p":0.48},{"z":1.853,"p":0.42},{"z":1.067,"p":0.41},{"z":1.263,"p":0.38},{"z":1.244,"p":0.37},{"z":1.412,"p":0.39},{"z":1.078,"p":0.36},{"z":1.220,"p":0.35},{"z":1.365,"p":0.36},{"z":1.728,"p":0.35},{"z":1.047,"p":0.33}
],
"bot_bins": [
{"z":0.1,"p":4.96,"lo":4.59,"hi":5.31},{"z":0.3,"p":3.38,"lo":3.17,"hi":3.59},{"z":0.5,"p":2.49,"lo":2.36,"hi":2.61},{"z":0.7,"p":2.02,"lo":1.84,"hi":2.16},{"z":0.9,"p":1.70,"lo":1.48,"hi":1.93},{"z":1.1,"p":1.53,"lo":1.32,"hi":1.74},{"z":1.3,"p":1.32,"lo":1.12,"hi":1.51},{"z":1.5,"p":1.60,"lo":1.28,"hi":1.83},{"z":1.7,"p":1.05,"lo":0.81,"hi":1.26},{"z":1.9,"p":0.652,"lo":0.541,"hi":0.755}
]
},
"vconcat": [
{
 "title": "LoTSS",
 "width": 504, "height": 374,
 "layer": [
  {"data": {"name": "top_pts"}, "mark": {"type": "circle", "size": 6, "color": "black", "opacity": 1, "clip": true},
   "encoding": {
    "x": {"field": "p", "type": "quantitative", "title": "p [%]", "scale": {"domain": [0, 12], "nice": false}, "axis": {"values": [0,2,4,6,8,10,12], "titlePadding": 5}},
    "y": {"field": "r", "type": "quantitative", "title": "RRM rms [rad m⁻²]", "scale": {"domain": [0, 14.3], "nice": false}, "axis": {"values": [0,2,4,6,8,10,12,14], "titlePadding": 9}}
   }},
  {"data": {"name": "top_bins"}, "mark": {"type": "line", "color": "#1f77b4", "strokeWidth": 2},
   "encoding": {"x": {"field": "p", "type": "quantitative", "title": "p [%]"}, "y": {"field": "r", "type": "quantitative", "title": "RRM rms [rad m⁻²]"}}},
  {"data": {"name": "top_bins"}, "mark": {"type": "rule", "color": "#1f77b4", "strokeWidth": 2},
   "encoding": {"x": {"field": "p", "type": "quantitative", "title": "p [%]"}, "y": {"field": "lo", "type": "quantitative", "title": "RRM rms [rad m⁻²]"}, "y2": {"field": "hi"}}},
  {"data": {"name": "top_bins"}, "mark": {"type": "tick", "orient": "horizontal", "color": "#1f77b4", "thickness": 2, "size": 9},
   "encoding": {"x": {"field": "p", "type": "quantitative", "title": "p [%]"}, "y": {"field": "lo", "type": "quantitative", "title": "RRM rms [rad m⁻²]"}}},
  {"data": {"name": "top_bins"}, "mark": {"type": "tick", "orient": "horizontal", "color": "#1f77b4", "thickness": 2, "size": 9},
   "encoding": {"x": {"field": "p", "type": "quantitative", "title": "p [%]"}, "y": {"field": "hi", "type": "quantitative", "title": "RRM rms [rad m⁻²]"}}},
  {"data": {"name": "top_bins"}, "mark": {"type": "circle", "size": 12, "color": "#1f77b4", "opacity": 1},
   "encoding": {"x": {"field": "p", "type": "quantitative", "title": "p [%]"}, "y": {"field": "r", "type": "quantitative", "title": "RRM rms [rad m⁻²]"}}}
 ]
},
{
 "title": "LoTSS",
 "width": 504, "height": 374,
 "layer": [
  {"data": {"name": "bot_pts"}, "mark": {"type": "circle", "size": 6, "color": "black", "opacity": 1, "clip": true},
   "encoding": {
    "x": {"field": "z", "type": "quantitative", "title": "redshift", "scale": {"domain": [0, 2], "nice": false}, "axis": {"values": [0,0.25,0.5,0.75,1,1.25,1.5,1.75,2], "format": ".2f", "titlePadding": 4}},
    "y": {"field": "p", "type": "quantitative", "title": "p [%]", "scale": {"type": "log", "domain": [0.3, 10], "nice": false},
      "axis": {"values": [0.3,0.4,0.5,0.6,0.7,0.8,0.9,1,2,3,4,5,6,7,8,9,10], "labelExpr": "datum.value == 1 ? '10⁰' : (datum.value == 10 ? '10¹' : '')",
        "tickSize": {"condition": {"test": "datum.value == 1 || datum.value == 10", "value": 5}, "value": 3},
        "tickWidth": {"condition": {"test": "datum.value == 1 || datum.value == 10", "value": 1.3}, "value": 1},
        "titlePadding": 7}}
   }},
  {"data": {"name": "bot_bins"}, "mark": {"type": "line", "color": "#1f77b4", "strokeWidth": 2},
   "encoding": {"x": {"field": "z", "type": "quantitative", "title": "redshift"}, "y": {"field": "p", "type": "quantitative", "title": "p [%]"}}},
  {"data": {"name": "bot_bins"}, "mark": {"type": "rule", "color": "#1f77b4", "strokeWidth": 2},
   "encoding": {"x": {"field": "z", "type": "quantitative", "title": "redshift"}, "y": {"field": "lo", "type": "quantitative", "title": "p [%]"}, "y2": {"field": "hi"}}},
  {"data": {"name": "bot_bins"}, "mark": {"type": "tick", "orient": "horizontal", "color": "#1f77b4", "thickness": 2, "size": 9},
   "encoding": {"x": {"field": "z", "type": "quantitative", "title": "redshift"}, "y": {"field": "lo", "type": "quantitative", "title": "p [%]"}}},
  {"data": {"name": "bot_bins"}, "mark": {"type": "tick", "orient": "horizontal", "color": "#1f77b4", "thickness": 2, "size": 9},
   "encoding": {"x": {"field": "z", "type": "quantitative", "title": "redshift"}, "y": {"field": "hi", "type": "quantitative", "title": "p [%]"}}},
  {"data": {"name": "bot_bins"}, "mark": {"type": "circle", "size": 12, "color": "#1f77b4", "opacity": 1},
   "encoding": {"x": {"field": "z", "type": "quantitative", "title": "redshift"}, "y": {"field": "p", "type": "quantitative", "title": "p [%]"}}}
 ]
}
]
}
